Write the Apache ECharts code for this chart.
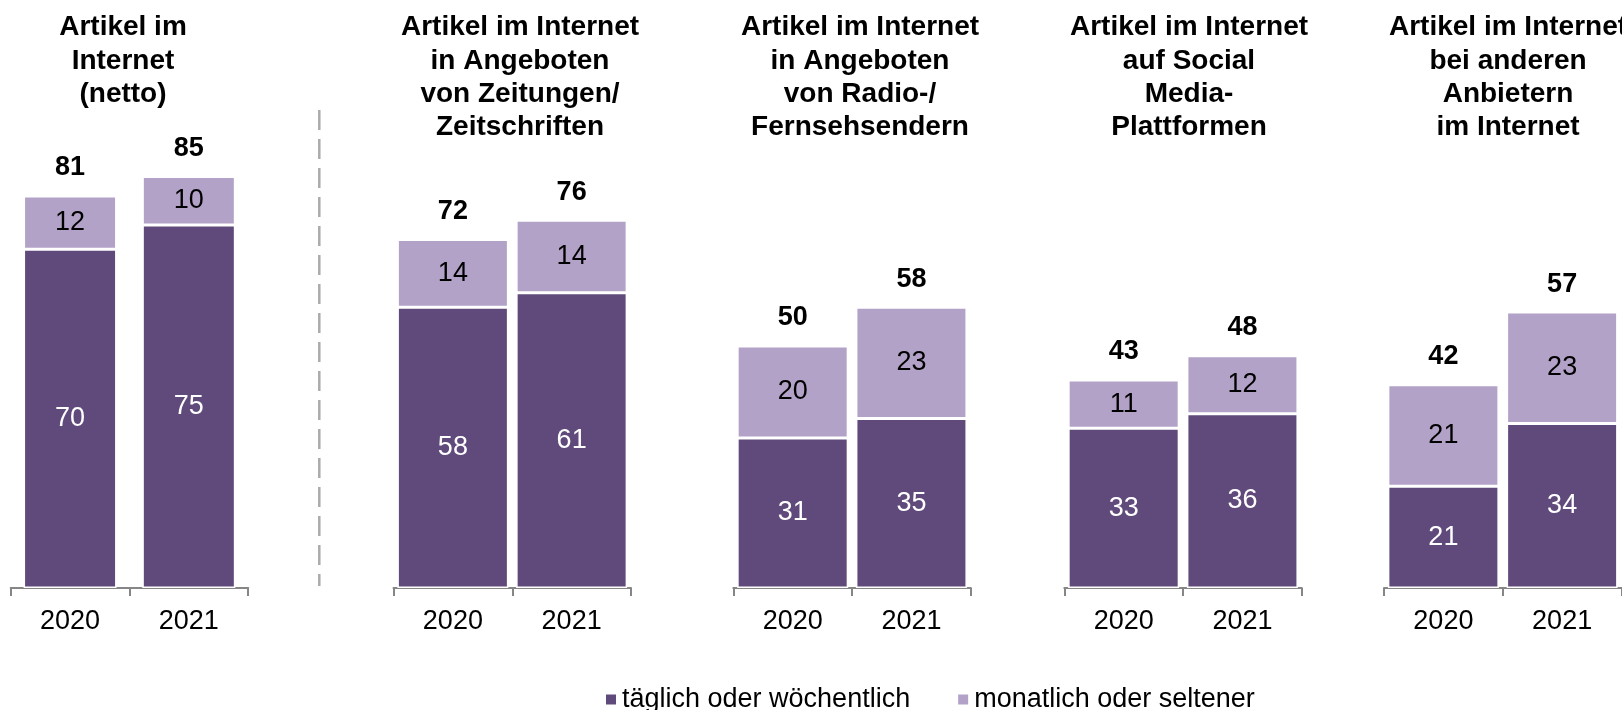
<!DOCTYPE html>
<html>
<head>
<meta charset="utf-8">
<script src="https://cdn.jsdelivr.net/npm/echarts@6/dist/echarts.min.js"></script>
<style>
html,body{margin:0;padding:0;background:#fff;}
#chart{width:1622px;height:710px;}
</style>
</head>
<body>
<div id="chart"></div>
<script>
// ---- data ----
const years = ['2020', '2021'];
const groupTitles = [
  'Artikel im\nInternet\n(netto)',
  'Artikel im Internet\nin Angeboten\nvon Zeitungen/\nZeitschriften',
  'Artikel im Internet\nin Angeboten\nvon Radio-/\nFernsehsendern',
  'Artikel im Internet\nauf Social\nMedia-\nPlattformen',
  'Artikel im Internet\nbei anderen\nAnbietern\nim Internet'
];
const seriesNames = ['täglich oder wöchentlich', 'monatlich oder seltener'];
const weekly  = [[70, 75], [58, 61], [31, 35], [33, 36], [21, 34]];
const monthly = [[12, 10], [14, 14], [20, 23], [11, 12], [21, 23]];
const totals  = [[81, 85], [72, 76], [50, 58], [43, 48], [42, 57]];

// ---- layout / style ----
const gridLefts = [10.7, 393.5, 733.3, 1064.3, 1384];
const gridWidth = 237.5;
const titleCenters = [118, 515, 855, 1184, 1503];
const barWidths = [93, 111, 111, 111, 111];
const darkColor = '#604A7B';
const lightColor = '#B3A2C7';
const axisColor = '#868686';
const FONT = '"Liberation Sans", Arial, sans-serif';

const grids = [], xAxes = [], yAxes = [], series = [], titles = [];
for (let g = 0; g < 5; g++) {
  grids.push({left: gridLefts[g], width: gridWidth, top: 104, height: 484, containLabel: false});
  xAxes.push({
    type: 'category', gridIndex: g, data: years,
    axisLine: {show: true, lineStyle: {color: axisColor, width: 2}},
    axisTick: {show: true, length: 8, lineStyle: {color: axisColor, width: 2}},
    axisLabel: {fontSize: 27, color: '#000', fontFamily: FONT, margin: 20}
  });
  yAxes.push({type: 'value', gridIndex: g, min: 0, max: 100, show: false, splitLine: {show: false}});
  series.push({
    name: seriesNames[0], type: 'bar', xAxisIndex: g, yAxisIndex: g, stack: 's' + g,
    barWidth: barWidths[g],
    data: weekly[g],
    itemStyle: {color: darkColor, borderColor: '#fff', borderWidth: 1.5},
    label: {show: true, position: 'inside', color: '#fff', fontSize: 27, fontFamily: FONT,
            textBorderWidth: 0}
  });
  series.push({
    name: seriesNames[1], type: 'bar', xAxisIndex: g, yAxisIndex: g, stack: 's' + g,
    barWidth: barWidths[g],
    data: totals[g].map((t, i) => t - weekly[g][i]),
    itemStyle: {color: lightColor, borderColor: '#fff', borderWidth: 1.5},
    label: {show: true, position: 'inside', color: '#000', fontSize: 27, fontFamily: FONT,
            textBorderWidth: 0,
            formatter: (p) => String(monthly[g][p.dataIndex])}
  });
  series.push({
    name: 'total' + g, type: 'scatter', xAxisIndex: g, yAxisIndex: g,
    data: totals[g], symbol: 'circle', symbolSize: 1,
    itemStyle: {color: 'rgba(0,0,0,0)'}, silent: true,
    label: {show: true, position: 'top', distance: 14, color: '#000', fontSize: 27,
            fontWeight: 'bold', fontFamily: FONT, textBorderWidth: 0, opacity: 1}
  });
  titles.push({
    text: groupTitles[g], left: titleCenters[g], top: 6, textAlign: 'center',
    textStyle: {fontSize: 28, fontWeight: 'bold', color: '#000', fontFamily: FONT, lineHeight: 33.3}
  });
}

const chart = echarts.init(document.getElementById('chart'), null, {renderer: 'canvas'});
chart.setOption({
  animation: false,
  backgroundColor: '#fff',
  title: titles,
  grid: grids,
  xAxis: xAxes,
  yAxis: yAxes,
  legend: {
    data: seriesNames, left: 599, top: 681, icon: 'rect', itemWidth: 12, itemHeight: 12,
    itemGap: 46, selectedMode: false,
    textStyle: {fontSize: 27, color: '#000', fontFamily: FONT, lineHeight: 27}
  },
  graphic: [{
    type: 'line', silent: true,
    shape: {x1: 319.3, y1: 110, x2: 319.3, y2: 586},
    style: {stroke: '#ABABAB', lineWidth: 2.5, lineDash: [20, 9]}
  }],
  series: series
});
</script>
</body>
</html>
